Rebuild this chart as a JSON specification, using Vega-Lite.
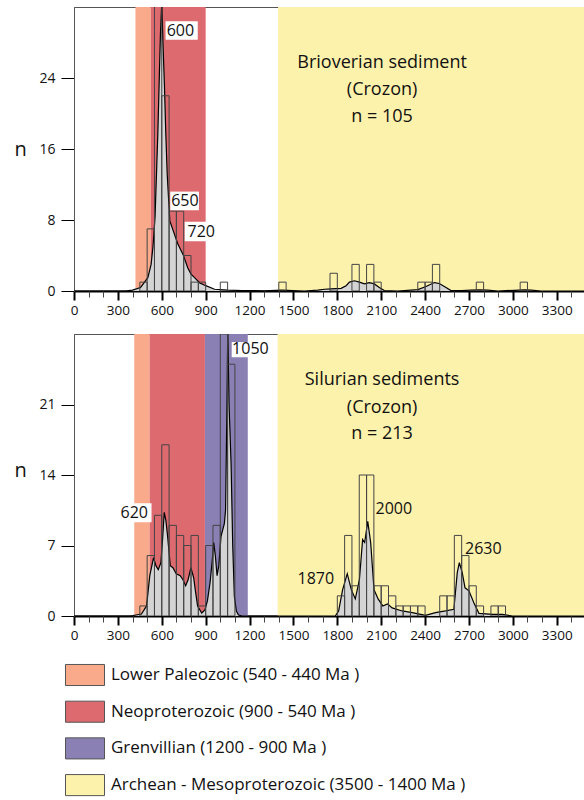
{
  "$schema": "https://vega.github.io/schema/vega-lite/v6.json",
  "padding": {"left": 13, "top": 6, "right": 0, "bottom": 0},
  "background": "white",
  "spacing": 16,
  "config": {
    "font": "Open Sans",
    "view": {"stroke": "#555", "strokeWidth": 1},
    "text": {"font": "Open Sans", "color": "#111"},
    "legend": {
      "orient": "none", "legendX": -9, "legendY": 648, "direction": "vertical",
      "symbolType": "M-1,-0.54H1V0.54H-1Z", "symbolSize": 1521,
      "symbolStrokeColor": "#555", "symbolStrokeWidth": 1, "symbolOpacity": 1,
      "labelFont": "Open Sans", "labelFontSize": 17, "labelColor": "#111", "labelOffset": 6,
      "rowPadding": 3.7, "labelLimit": 0, "title": null
    }
  },
  "datasets": {
    "bands": [
      {"panel": "top", "era": "Lower Paleozoic (540 - 440 Ma )", "start": 420, "end": 525},
      {"panel": "top", "era": "Neoproterozoic (900 - 540 Ma )", "start": 525, "end": 900},
      {"panel": "top", "era": "Archean - Mesoproterozoic (3500 - 1400 Ma )", "start": 1395, "end": 3500},
      {"panel": "bottom", "era": "Lower Paleozoic (540 - 440 Ma )", "start": 412, "end": 517},
      {"panel": "bottom", "era": "Neoproterozoic (900 - 540 Ma )", "start": 517, "end": 895},
      {"panel": "bottom", "era": "Grenvillian (1200 - 900 Ma )", "start": 895, "end": 1188},
      {"panel": "bottom", "era": "Archean - Mesoproterozoic (3500 - 1400 Ma )", "start": 1392, "end": 3500}
    ],
    "hist": [
      {"panel": "top", "bin_start": 450, "bin_end": 500, "count": 1},
      {"panel": "top", "bin_start": 500, "bin_end": 550, "count": 7},
      {"panel": "top", "bin_start": 550, "bin_end": 600, "count": 33},
      {"panel": "top", "bin_start": 600, "bin_end": 650, "count": 22},
      {"panel": "top", "bin_start": 650, "bin_end": 700, "count": 9},
      {"panel": "top", "bin_start": 700, "bin_end": 750, "count": 9},
      {"panel": "top", "bin_start": 750, "bin_end": 800, "count": 4},
      {"panel": "top", "bin_start": 800, "bin_end": 850, "count": 1},
      {"panel": "top", "bin_start": 850, "bin_end": 900, "count": 1},
      {"panel": "top", "bin_start": 1000, "bin_end": 1050, "count": 1},
      {"panel": "top", "bin_start": 1400, "bin_end": 1450, "count": 1},
      {"panel": "top", "bin_start": 1750, "bin_end": 1800, "count": 2},
      {"panel": "top", "bin_start": 1900, "bin_end": 1950, "count": 3},
      {"panel": "top", "bin_start": 2000, "bin_end": 2050, "count": 3},
      {"panel": "top", "bin_start": 2050, "bin_end": 2100, "count": 1},
      {"panel": "top", "bin_start": 2350, "bin_end": 2400, "count": 1},
      {"panel": "top", "bin_start": 2400, "bin_end": 2450, "count": 1},
      {"panel": "top", "bin_start": 2450, "bin_end": 2500, "count": 3},
      {"panel": "top", "bin_start": 2750, "bin_end": 2800, "count": 1},
      {"panel": "top", "bin_start": 3050, "bin_end": 3100, "count": 1},
      {"panel": "bottom", "bin_start": 450, "bin_end": 500, "count": 1},
      {"panel": "bottom", "bin_start": 500, "bin_end": 550, "count": 6},
      {"panel": "bottom", "bin_start": 550, "bin_end": 600, "count": 10},
      {"panel": "bottom", "bin_start": 600, "bin_end": 650, "count": 17},
      {"panel": "bottom", "bin_start": 650, "bin_end": 700, "count": 9},
      {"panel": "bottom", "bin_start": 700, "bin_end": 750, "count": 8},
      {"panel": "bottom", "bin_start": 750, "bin_end": 800, "count": 7},
      {"panel": "bottom", "bin_start": 800, "bin_end": 850, "count": 8},
      {"panel": "bottom", "bin_start": 850, "bin_end": 900, "count": 1},
      {"panel": "bottom", "bin_start": 900, "bin_end": 950, "count": 7},
      {"panel": "bottom", "bin_start": 950, "bin_end": 1000, "count": 9},
      {"panel": "bottom", "bin_start": 1000, "bin_end": 1050, "count": 28},
      {"panel": "bottom", "bin_start": 1050, "bin_end": 1100, "count": 25},
      {"panel": "bottom", "bin_start": 1800, "bin_end": 1850, "count": 2},
      {"panel": "bottom", "bin_start": 1850, "bin_end": 1900, "count": 8},
      {"panel": "bottom", "bin_start": 1900, "bin_end": 1950, "count": 3},
      {"panel": "bottom", "bin_start": 1950, "bin_end": 2000, "count": 14},
      {"panel": "bottom", "bin_start": 2000, "bin_end": 2050, "count": 14},
      {"panel": "bottom", "bin_start": 2050, "bin_end": 2100, "count": 3},
      {"panel": "bottom", "bin_start": 2100, "bin_end": 2150, "count": 3},
      {"panel": "bottom", "bin_start": 2150, "bin_end": 2200, "count": 2},
      {"panel": "bottom", "bin_start": 2200, "bin_end": 2250, "count": 1},
      {"panel": "bottom", "bin_start": 2250, "bin_end": 2300, "count": 1},
      {"panel": "bottom", "bin_start": 2300, "bin_end": 2350, "count": 1},
      {"panel": "bottom", "bin_start": 2350, "bin_end": 2400, "count": 1},
      {"panel": "bottom", "bin_start": 2500, "bin_end": 2550, "count": 2},
      {"panel": "bottom", "bin_start": 2550, "bin_end": 2600, "count": 2},
      {"panel": "bottom", "bin_start": 2600, "bin_end": 2650, "count": 8},
      {"panel": "bottom", "bin_start": 2650, "bin_end": 2700, "count": 6},
      {"panel": "bottom", "bin_start": 2700, "bin_end": 2750, "count": 3},
      {"panel": "bottom", "bin_start": 2750, "bin_end": 2800, "count": 1},
      {"panel": "bottom", "bin_start": 2850, "bin_end": 2900, "count": 1},
      {"panel": "bottom", "bin_start": 2900, "bin_end": 2950, "count": 1}
    ],
    "kde": [
      {"panel": "top", "age": 0, "n": 0},
      {"panel": "top", "age": 350, "n": 0},
      {"panel": "top", "age": 400, "n": 0.1},
      {"panel": "top", "age": 455, "n": 0.4},
      {"panel": "top", "age": 505, "n": 1.5},
      {"panel": "top", "age": 527, "n": 3},
      {"panel": "top", "age": 540, "n": 5},
      {"panel": "top", "age": 554, "n": 8.3},
      {"panel": "top", "age": 573, "n": 17.7},
      {"panel": "top", "age": 591, "n": 29},
      {"panel": "top", "age": 600, "n": 32.5},
      {"panel": "top", "age": 608, "n": 28},
      {"panel": "top", "age": 618, "n": 23.3},
      {"panel": "top", "age": 627, "n": 18},
      {"panel": "top", "age": 637, "n": 13.2},
      {"panel": "top", "age": 655, "n": 7.9},
      {"panel": "top", "age": 678, "n": 6.8},
      {"panel": "top", "age": 710, "n": 5.3},
      {"panel": "top", "age": 746, "n": 4.1},
      {"panel": "top", "age": 778, "n": 2.6},
      {"panel": "top", "age": 800, "n": 1.9},
      {"panel": "top", "age": 824, "n": 1.5},
      {"panel": "top", "age": 860, "n": 0.9},
      {"panel": "top", "age": 901, "n": 0.6},
      {"panel": "top", "age": 961, "n": 0.2},
      {"panel": "top", "age": 1053, "n": 0.1},
      {"panel": "top", "age": 1150, "n": 0.05},
      {"panel": "top", "age": 1300, "n": 0.02},
      {"panel": "top", "age": 1421, "n": 0.1},
      {"panel": "top", "age": 1575, "n": 0},
      {"panel": "top", "age": 1667, "n": 0.1},
      {"panel": "top", "age": 1713, "n": 0.2},
      {"panel": "top", "age": 1758, "n": 0.25},
      {"panel": "top", "age": 1826, "n": 0.3},
      {"panel": "top", "age": 1860, "n": 0.6},
      {"panel": "top", "age": 1883, "n": 1.0},
      {"panel": "top", "age": 1917, "n": 1.15},
      {"panel": "top", "age": 1951, "n": 1.0},
      {"panel": "top", "age": 1986, "n": 0.8},
      {"panel": "top", "age": 2019, "n": 0.95},
      {"panel": "top", "age": 2053, "n": 0.8},
      {"panel": "top", "age": 2087, "n": 0.4},
      {"panel": "top", "age": 2121, "n": 0.05},
      {"panel": "top", "age": 2213, "n": 0},
      {"panel": "top", "age": 2304, "n": 0.1},
      {"panel": "top", "age": 2350, "n": 0.15},
      {"panel": "top", "age": 2407, "n": 0.5},
      {"panel": "top", "age": 2463, "n": 0.95},
      {"panel": "top", "age": 2497, "n": 0.85},
      {"panel": "top", "age": 2543, "n": 0.4},
      {"panel": "top", "age": 2577, "n": 0.05},
      {"panel": "top", "age": 2650, "n": 0.05},
      {"panel": "top", "age": 2714, "n": 0.1},
      {"panel": "top", "age": 2770, "n": 0.12},
      {"panel": "top", "age": 2828, "n": 0.1},
      {"panel": "top", "age": 2897, "n": 0},
      {"panel": "top", "age": 3010, "n": 0.08},
      {"panel": "top", "age": 3080, "n": 0.12},
      {"panel": "top", "age": 3124, "n": 0.1},
      {"panel": "top", "age": 3193, "n": 0},
      {"panel": "top", "age": 3500, "n": 0},
      {"panel": "bottom", "age": 0, "n": 0},
      {"panel": "bottom", "age": 380, "n": 0},
      {"panel": "bottom", "age": 404, "n": 0.05},
      {"panel": "bottom", "age": 461, "n": 0.2},
      {"panel": "bottom", "age": 496, "n": 1},
      {"panel": "bottom", "age": 518, "n": 4},
      {"panel": "bottom", "age": 544, "n": 5.8},
      {"panel": "bottom", "age": 560, "n": 5.0},
      {"panel": "bottom", "age": 576, "n": 4.6},
      {"panel": "bottom", "age": 594, "n": 5.3},
      {"panel": "bottom", "age": 605, "n": 7.5},
      {"panel": "bottom", "age": 617, "n": 10.3},
      {"panel": "bottom", "age": 628, "n": 9.5},
      {"panel": "bottom", "age": 640, "n": 7.9},
      {"panel": "bottom", "age": 658, "n": 5.0},
      {"panel": "bottom", "age": 676, "n": 4.8},
      {"panel": "bottom", "age": 699, "n": 4.2},
      {"panel": "bottom", "age": 726, "n": 4.0},
      {"panel": "bottom", "age": 745, "n": 3.6},
      {"panel": "bottom", "age": 763, "n": 3.0},
      {"panel": "bottom", "age": 780, "n": 3.6},
      {"panel": "bottom", "age": 799, "n": 4.8},
      {"panel": "bottom", "age": 818, "n": 3.8},
      {"panel": "bottom", "age": 830, "n": 2.5},
      {"panel": "bottom", "age": 845, "n": 1.0},
      {"panel": "bottom", "age": 873, "n": 0.3},
      {"panel": "bottom", "age": 895, "n": 0.6},
      {"panel": "bottom", "age": 912, "n": 1.5},
      {"panel": "bottom", "age": 930, "n": 3.3},
      {"panel": "bottom", "age": 945, "n": 5.5},
      {"panel": "bottom", "age": 955, "n": 7.3},
      {"panel": "bottom", "age": 966, "n": 6.0},
      {"panel": "bottom", "age": 978, "n": 4.0},
      {"panel": "bottom", "age": 990, "n": 5.0},
      {"panel": "bottom", "age": 1005, "n": 7.9},
      {"panel": "bottom", "age": 1028, "n": 9.2},
      {"panel": "bottom", "age": 1036, "n": 10.5},
      {"panel": "bottom", "age": 1045, "n": 20},
      {"panel": "bottom", "age": 1051, "n": 28.5},
      {"panel": "bottom", "age": 1060, "n": 21},
      {"panel": "bottom", "age": 1074, "n": 15},
      {"panel": "bottom", "age": 1085, "n": 7},
      {"panel": "bottom", "age": 1096, "n": 2},
      {"panel": "bottom", "age": 1110, "n": 0.5},
      {"panel": "bottom", "age": 1124, "n": 0.1},
      {"panel": "bottom", "age": 1150, "n": 0},
      {"panel": "bottom", "age": 1786, "n": 0},
      {"panel": "bottom", "age": 1809, "n": 0.5},
      {"panel": "bottom", "age": 1836, "n": 2.6},
      {"panel": "bottom", "age": 1868, "n": 4.2},
      {"panel": "bottom", "age": 1896, "n": 2.6},
      {"panel": "bottom", "age": 1923, "n": 1.7},
      {"panel": "bottom", "age": 1951, "n": 3.6},
      {"panel": "bottom", "age": 1973, "n": 7.6},
      {"panel": "bottom", "age": 1987, "n": 7.3},
      {"panel": "bottom", "age": 2008, "n": 9.4},
      {"panel": "bottom", "age": 2028, "n": 7.3},
      {"panel": "bottom", "age": 2051, "n": 2.6},
      {"panel": "bottom", "age": 2079, "n": 1.7},
      {"panel": "bottom", "age": 2111, "n": 1.0},
      {"panel": "bottom", "age": 2143, "n": 1.2},
      {"panel": "bottom", "age": 2175, "n": 0.8},
      {"panel": "bottom", "age": 2243, "n": 0.5},
      {"panel": "bottom", "age": 2312, "n": 0.33},
      {"panel": "bottom", "age": 2403, "n": 0.07},
      {"panel": "bottom", "age": 2471, "n": 0.33},
      {"panel": "bottom", "age": 2540, "n": 0.5},
      {"panel": "bottom", "age": 2597, "n": 0.66},
      {"panel": "bottom", "age": 2620, "n": 4.3},
      {"panel": "bottom", "age": 2634, "n": 5.3},
      {"panel": "bottom", "age": 2654, "n": 4.3},
      {"panel": "bottom", "age": 2673, "n": 2.8},
      {"panel": "bottom", "age": 2700, "n": 2.5},
      {"panel": "bottom", "age": 2734, "n": 1.3},
      {"panel": "bottom", "age": 2768, "n": 0.26},
      {"panel": "bottom", "age": 2860, "n": 0.17},
      {"panel": "bottom", "age": 2928, "n": 0.17},
      {"panel": "bottom", "age": 2997, "n": 0},
      {"panel": "bottom", "age": 3500, "n": 0}
    ],
    "labels": [
      {"panel": "top", "label": "600", "age": 727, "n": 29.3, "bx0": 626, "bx1": 846, "by0": 28.3, "by1": 30.4},
      {"panel": "top", "label": "650", "age": 758, "n": 10.1, "bx0": 658, "bx1": 854, "by0": 9.1, "by1": 11.2},
      {"panel": "top", "label": "720", "age": 870, "n": 6.7, "bx0": 757, "bx1": 983, "by0": 5.6, "by1": 7.8},
      {"panel": "bottom", "label": "1050", "age": 1206, "n": 26.5, "bx0": 1078, "bx1": 1334, "by0": 25.7, "by1": 27.2},
      {"panel": "bottom", "label": "620", "age": 412, "n": 10.2, "bx0": 297, "bx1": 530, "by0": 9.3, "by1": 11.2},
      {"panel": "bottom", "label": "2000", "age": 2186, "n": 10.6},
      {"panel": "bottom", "label": "1870", "age": 1653, "n": 3.7},
      {"panel": "bottom", "label": "2630", "age": 2798, "n": 6.7}
    ],
    "titles": [
      {"panel": "top", "label": "Brioverian sediment", "age": 2106, "n": 25.7},
      {"panel": "top", "label": "(Crozon)", "age": 2106, "n": 22.7},
      {"panel": "top", "label": "n = 105", "age": 2106, "n": 19.6},
      {"panel": "bottom", "label": "Silurian sediments", "age": 2106, "n": 23.4},
      {"panel": "bottom", "label": "(Crozon)", "age": 2106, "n": 20.7},
      {"panel": "bottom", "label": "n = 213", "age": 2106, "n": 18.1}
    ]
  },
  "vconcat": [
    {
      "width": 512,
      "height": 284,
      "resolve": {"axis": {"x": "independent"}},
      "layer": [
        {
          "data": {"name": "bands"},
          "transform": [{"filter": "datum.panel === 'top'"}],
          "mark": {"type": "rect"},
          "encoding": {
            "x": {"field": "start", "type": "quantitative", "scale": {"domain": [0, 3500], "nice": false},
              "axis": {"orient": "bottom", "title": null, "values": [0,300,600,900,1200,1500,1800,2100,2400,2700,3000,3300],
                "format": "d", "labelFont": "Open Sans", "labelFontSize": 13.5, "labelColor": "#111", "labelPadding": 3,
                "labelFlush": false, "labelOverlap": false, "labelBound": false,
                "domainColor": "black", "domainWidth": 2, "tickSize": 9, "tickWidth": 2, "tickColor": "black", "grid": false}},
            "x2": {"field": "end"},
            "color": {"field": "era", "type": "nominal",
              "scale": {"domain": ["Lower Paleozoic (540 - 440 Ma )", "Neoproterozoic (900 - 540 Ma )", "Grenvillian (1200 - 900 Ma )", "Archean - Mesoproterozoic (3500 - 1400 Ma )"],
                "range": ["#F9AA8A", "#DD6A6F", "#8A80B4", "#FDF2AC"]}}
          }
        },
        {
          "data": {"name": "kde"},
          "transform": [{"filter": "datum.panel === 'top'"}],
          "mark": {"type": "area", "color": "#d4d4d4", "clip": true},
          "encoding": {
            "x": {"field": "age", "type": "quantitative", "scale": {"domain": [0, 3500], "nice": false},
              "axis": {"orient": "bottom", "title": null, "values": [100,200,400,500,700,800,1000,1100,1300,1400,1600,1700,1900,2000,2200,2300,2500,2600,2800,2900,3100,3200,3400],
                "labels": false, "domain": false, "tickSize": 6, "tickWidth": 1, "tickColor": "#444", "grid": false}},
            "y": {"field": "n", "type": "quantitative", "scale": {"domain": [0, 32], "nice": false},
              "axis": {"values": [0, 8, 16, 24], "title": "n", "titleAngle": 0, "titleX": -54, "titleY": 142,
                "titleAlign": "center", "titleBaseline": "middle", "titleFont": "Open Sans", "titleFontSize": 20, "titleFontWeight": "normal", "titleColor": "#111",
                "labelFont": "Open Sans", "labelFontSize": 14, "labelColor": "#111", "labelPadding": 6,
                "tickSize": 13, "tickColor": "black", "domainColor": "#555", "grid": false}}
          }
        },
        {
          "data": {"name": "kde"},
          "transform": [{"filter": "datum.panel === 'top'"}],
          "mark": {"type": "line", "color": "black", "strokeWidth": 1.2, "clip": true},
          "encoding": {
            "x": {"field": "age", "type": "quantitative", "scale": {"domain": [0, 3500], "nice": false}, "axis": null},
            "y": {"field": "n", "type": "quantitative", "scale": {"domain": [0, 32], "nice": false}, "axis": {"title": "n"}}
          }
        },
        {
          "data": {"name": "hist"},
          "transform": [{"filter": "datum.panel === 'top'"}],
          "mark": {"type": "rect", "filled": false, "color": "#444", "strokeWidth": 1, "clip": true},
          "encoding": {
            "x": {"field": "bin_start", "type": "quantitative", "scale": {"domain": [0, 3500], "nice": false}, "axis": null},
            "x2": {"field": "bin_end"},
            "y": {"field": "count", "type": "quantitative", "scale": {"domain": [0, 32], "nice": false}, "axis": {"title": "n"}},
            "y2": {"datum": 0}
          }
        },
        {
          "data": {"name": "labels"},
          "transform": [{"filter": "datum.panel === 'top' && datum.bx0 != null"}],
          "mark": {"type": "rect", "color": "white"},
          "encoding": {
            "x": {"field": "bx0", "type": "quantitative", "scale": {"domain": [0, 3500], "nice": false}, "axis": null},
            "x2": {"field": "bx1"},
            "y": {"field": "by0", "type": "quantitative", "scale": {"domain": [0, 32], "nice": false}, "axis": {"title": "n"}},
            "y2": {"field": "by1"}
          }
        },
        {
          "data": {"name": "labels"},
          "transform": [{"filter": "datum.panel === 'top'"}],
          "mark": {"type": "text", "fontSize": 16, "baseline": "middle", "align": "center"},
          "encoding": {
            "x": {"field": "age", "type": "quantitative", "scale": {"domain": [0, 3500], "nice": false}, "axis": null},
            "y": {"field": "n", "type": "quantitative", "scale": {"domain": [0, 32], "nice": false}, "axis": {"title": "n"}},
            "text": {"field": "label"}
          }
        },
        {
          "data": {"name": "titles"},
          "transform": [{"filter": "datum.panel === 'top'"}],
          "mark": {"type": "text", "fontSize": 18, "baseline": "middle", "align": "center"},
          "encoding": {
            "x": {"field": "age", "type": "quantitative", "scale": {"domain": [0, 3500], "nice": false}, "axis": null},
            "y": {"field": "n", "type": "quantitative", "scale": {"domain": [0, 32], "nice": false}, "axis": {"title": "n"}},
            "text": {"field": "label"}
          }
        }
      ]
    },
    {
      "width": 512,
      "height": 282,
      "resolve": {"axis": {"x": "independent"}},
      "layer": [
        {
          "data": {"name": "bands"},
          "transform": [{"filter": "datum.panel === 'bottom'"}],
          "mark": {"type": "rect"},
          "encoding": {
            "x": {"field": "start", "type": "quantitative", "scale": {"domain": [0, 3500], "nice": false},
              "axis": {"orient": "bottom", "title": null, "values": [0,300,600,900,1200,1500,1800,2100,2400,2700,3000,3300],
                "format": "d", "labelFont": "Open Sans", "labelFontSize": 13.5, "labelColor": "#111", "labelPadding": 3,
                "labelFlush": false, "labelOverlap": false, "labelBound": false,
                "domainColor": "black", "domainWidth": 2, "tickSize": 9, "tickWidth": 2, "tickColor": "black", "grid": false}},
            "x2": {"field": "end"},
            "color": {"field": "era", "type": "nominal",
              "scale": {"domain": ["Lower Paleozoic (540 - 440 Ma )", "Neoproterozoic (900 - 540 Ma )", "Grenvillian (1200 - 900 Ma )", "Archean - Mesoproterozoic (3500 - 1400 Ma )"],
                "range": ["#F9AA8A", "#DD6A6F", "#8A80B4", "#FDF2AC"]}}
          }
        },
        {
          "data": {"name": "kde"},
          "transform": [{"filter": "datum.panel === 'bottom'"}],
          "mark": {"type": "area", "color": "#d4d4d4", "clip": true},
          "encoding": {
            "x": {"field": "age", "type": "quantitative", "scale": {"domain": [0, 3500], "nice": false},
              "axis": {"orient": "bottom", "title": null, "values": [100,200,400,500,700,800,1000,1100,1300,1400,1600,1700,1900,2000,2200,2300,2500,2600,2800,2900,3100,3200,3400],
                "labels": false, "domain": false, "tickSize": 6, "tickWidth": 1, "tickColor": "#444", "grid": false}},
            "y": {"field": "n", "type": "quantitative", "scale": {"domain": [0, 28], "nice": false},
              "axis": {"values": [0, 7, 14, 21], "title": "n", "titleAngle": 0, "titleX": -54, "titleY": 136,
                "titleAlign": "center", "titleBaseline": "middle", "titleFont": "Open Sans", "titleFontSize": 20, "titleFontWeight": "normal", "titleColor": "#111",
                "labelFont": "Open Sans", "labelFontSize": 14, "labelColor": "#111", "labelPadding": 6,
                "tickSize": 13, "tickColor": "black", "domainColor": "#555", "grid": false}}
          }
        },
        {
          "data": {"name": "kde"},
          "transform": [{"filter": "datum.panel === 'bottom'"}],
          "mark": {"type": "line", "color": "black", "strokeWidth": 1.2, "clip": true},
          "encoding": {
            "x": {"field": "age", "type": "quantitative", "scale": {"domain": [0, 3500], "nice": false}, "axis": null},
            "y": {"field": "n", "type": "quantitative", "scale": {"domain": [0, 28], "nice": false}, "axis": {"title": "n"}}
          }
        },
        {
          "data": {"name": "hist"},
          "transform": [{"filter": "datum.panel === 'bottom'"}],
          "mark": {"type": "rect", "filled": false, "color": "#444", "strokeWidth": 1, "clip": true},
          "encoding": {
            "x": {"field": "bin_start", "type": "quantitative", "scale": {"domain": [0, 3500], "nice": false}, "axis": null},
            "x2": {"field": "bin_end"},
            "y": {"field": "count", "type": "quantitative", "scale": {"domain": [0, 28], "nice": false}, "axis": {"title": "n"}},
            "y2": {"datum": 0}
          }
        },
        {
          "data": {"name": "labels"},
          "transform": [{"filter": "datum.panel === 'bottom' && datum.bx0 != null"}],
          "mark": {"type": "rect", "color": "white"},
          "encoding": {
            "x": {"field": "bx0", "type": "quantitative", "scale": {"domain": [0, 3500], "nice": false}, "axis": null},
            "x2": {"field": "bx1"},
            "y": {"field": "by0", "type": "quantitative", "scale": {"domain": [0, 28], "nice": false}, "axis": {"title": "n"}},
            "y2": {"field": "by1"}
          }
        },
        {
          "data": {"name": "labels"},
          "transform": [{"filter": "datum.panel === 'bottom'"}],
          "mark": {"type": "text", "fontSize": 16, "baseline": "middle", "align": "center"},
          "encoding": {
            "x": {"field": "age", "type": "quantitative", "scale": {"domain": [0, 3500], "nice": false}, "axis": null},
            "y": {"field": "n", "type": "quantitative", "scale": {"domain": [0, 28], "nice": false}, "axis": {"title": "n"}},
            "text": {"field": "label"}
          }
        },
        {
          "data": {"name": "titles"},
          "transform": [{"filter": "datum.panel === 'bottom'"}],
          "mark": {"type": "text", "fontSize": 18, "baseline": "middle", "align": "center"},
          "encoding": {
            "x": {"field": "age", "type": "quantitative", "scale": {"domain": [0, 3500], "nice": false}, "axis": null},
            "y": {"field": "n", "type": "quantitative", "scale": {"domain": [0, 28], "nice": false}, "axis": {"title": "n"}},
            "text": {"field": "label"}
          }
        }
      ]
    }
  ],
  "resolve": {"scale": {"y": "independent", "color": "shared"}, "legend": {"color": "shared"}}
}
